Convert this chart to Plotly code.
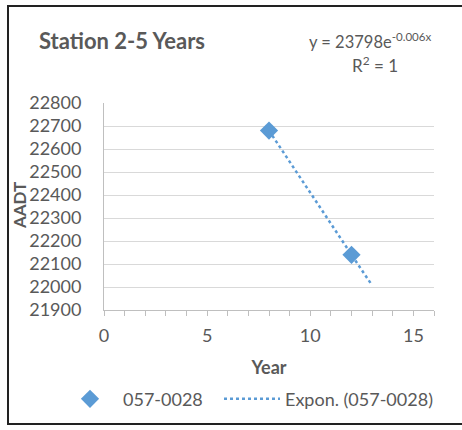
import numpy as np
import plotly.graph_objects as go

# Data
years = [8, 12]
aadt = [22680, 22140]
series_name = "057-0028"
trend_name = "Expon. (057-0028)"
forecast_end = 13

# Exponential fit
b = np.log(aadt[1] / aadt[0]) / (years[1] - years[0])
a = aadt[0] / np.exp(b * years[0])
xt = np.linspace(years[0], forecast_end, 60)
yt = a * np.exp(b * xt)

blue = "#5b9bd5"
gray = "#595959"
font = "Lato"

L, T, W, H = 104, 103, 330, 209


def px(xp):
    return (xp - L) / W


def py(yp):
    return (T + H - yp) / H


fig = go.Figure()
fig.add_trace(go.Scatter(x=years, y=aadt, mode="markers", name=series_name,
                         legend="legend",
                         marker=dict(symbol="diamond", size=14, color=blue)))
fig.add_trace(go.Scatter(x=xt, y=yt, mode="lines", name=trend_name,
                         legend="legend2",
                         line=dict(color=blue, width=2.5, dash="dot")))

leg_common = dict(orientation="h", yanchor="middle", xanchor="left",
                  font=dict(size=18, color=gray), itemwidth=56,
                  bgcolor="rgba(0,0,0,0)")

border = dict(color="#222222", width=2)

fig.update_layout(
    width=462, height=430,
    margin=dict(l=L, r=462 - L - W, t=T, b=430 - T - H),
    paper_bgcolor="white", plot_bgcolor="white",
    font=dict(family=font, color=gray, size=18),
    showlegend=True,
    legend=dict(x=px(57), y=py(402), **leg_common),
    legend2=dict(x=px(219), y=py(402), **leg_common),
    xaxis=dict(range=[0, 16], tickvals=[0, 5, 10, 15], showgrid=False,
               showline=True, linecolor="#bfbfbf", linewidth=1,
               ticks="outside", ticklen=5, tickcolor="#bfbfbf",
               minor=dict(dtick=1, ticks="outside", ticklen=5, tickcolor="#bfbfbf"),
               zeroline=False, ticklabelstandoff=4,
               title=dict(text="<b>Year</b>", font=dict(size=18, color=gray), standoff=16)),
    yaxis=dict(range=[21900, 22800], dtick=100, showgrid=True, gridcolor="#d9d9d9",
               showline=True, linecolor="#bfbfbf", zeroline=False, ticks="",
               tickformat="d", ticklabelstandoff=18),
    annotations=[
        dict(text="<b>Station 2-5 Years</b>", xref="paper", yref="paper",
             x=px(37), y=py(40), xanchor="left", yanchor="middle", showarrow=False,
             font=dict(size=22, color=gray)),
        dict(text="y = 23798e<sup>-0.006x</sup>", xref="paper", yref="paper",
             x=px(433), y=py(40), xanchor="right", yanchor="middle", showarrow=False,
             font=dict(size=16.5, color=gray)),
        dict(text="R<sup>2</sup> = 1", xref="paper", yref="paper",
             x=px(375), y=py(64), xanchor="center", yanchor="middle", showarrow=False,
             font=dict(size=17, color=gray)),
        dict(text="<b>AADT</b>", xref="paper", yref="paper",
             x=px(19), y=py(207), xanchor="center", yanchor="middle", showarrow=False,
             textangle=-90, font=dict(size=17, color=gray)),
    ],
    shapes=[
        dict(type="line", xref="paper", yref="paper",
             x0=px(7), x1=px(462), y0=py(5), y1=py(5), line=border),
        dict(type="line", xref="paper", yref="paper",
             x0=px(7), x1=px(462), y0=py(427), y1=py(427), line=border),
        dict(type="line", xref="paper", yref="paper",
             x0=px(8), x1=px(8), y0=py(5), y1=py(427), line=border),
    ],
)

post = (
    "document.body.style.margin='0';"
    "document.body.style.overflow='hidden';"
)

fig.write_html("out.html", config={"displayModeBar": False}, post_script=post)
